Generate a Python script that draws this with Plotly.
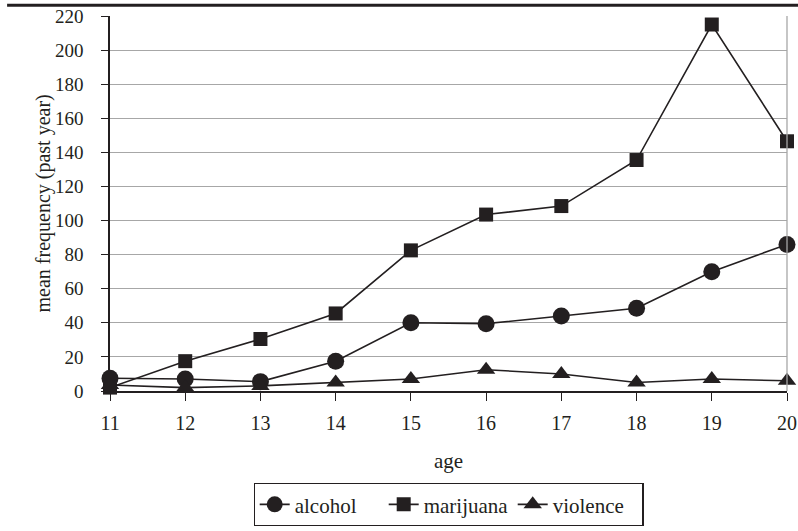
import plotly.graph_objects as go

ages = [11, 12, 13, 14, 15, 16, 17, 18, 19, 20]
alcohol = [7.5, 7, 5.5, 17.5, 40, 39.5, 44, 48.5, 70, 86]
marijuana = [2, 17.5, 30.5, 45.5, 82.5, 103.5, 108.5, 135.5, 215, 146.5]
violence = [3.5, 2, 3, 5, 7, 12.5, 10, 5, 7, 6]
y_ticks = list(range(0, 221, 20))

ink = "#231f20"
FAM = "Liberation Serif"

def f(size):
    return dict(family=FAM, size=size, color=ink)

fig = go.Figure()
series = [
    ("alcohol", alcohol, "circle", 17),
    ("marijuana", marijuana, "square", 14),
    ("violence", violence, "triangle-up", 16),
]
for name, vals, sym, sz in series:
    fig.add_trace(go.Scatter(
        x=ages, y=vals, name=name, mode="lines+markers",
        line=dict(color=ink, width=1.6),
        marker=dict(symbol=sym, size=sz, color=ink),
        cliponaxis=False,
    ))

fig.update_layout(
    width=798, height=531,
    margin=dict(l=110, r=11, t=16, b=140),
    paper_bgcolor="white", plot_bgcolor="white",
    font=f(20),
    showlegend=True,
    legend=dict(
        orientation="h", x=0.5, xanchor="center",
        yref="container", y=1 - 483 / 531, yanchor="top",
        xref="paper",
        bordercolor=ink, borderwidth=1.2, font=f(21),
        itemwidth=30, tracegroupgap=0,
        entrywidth=84, entrywidthmode="pixels",
    ),
    xaxis=dict(
        range=[11, 20], tickmode="array", tickvals=ages,
        ticktext=[str(a) for a in ages],
        showline=True, linecolor=ink, linewidth=1.6,
        ticks="outside", ticklen=8, tickcolor=ink, tickwidth=1.3,
        showgrid=False, zeroline=False, automargin=False,
        title=dict(text="age", standoff=21, font=f(21)),
        tickfont=f(20),
        ticklabelstandoff=5,
    ),
    yaxis=dict(
        range=[0, 220], tickmode="array", tickvals=y_ticks,
        showline=True, linecolor=ink, linewidth=1.6,
        ticks="outside", ticklen=7, tickcolor=ink, tickwidth=1.3,
        showgrid=True, gridcolor="#a7a7a7", gridwidth=1.3,
        zeroline=False, automargin=False,
        tickfont=f(19),
        ticklabelstandoff=14,
    ),
    annotations=[
        dict(text="mean frequency (past year)", xref="paper", yref="paper",
             x=(43 - 110) / 677, y=0.5, xanchor="center", yanchor="middle",
             textangle=-90, showarrow=False, font=f(20)),
    ],
    shapes=[
        dict(type="line", xref="paper", yref="paper", x0=1, x1=1, y0=0, y1=1,
             line=dict(color="#a7a7a7", width=1.3)),
        dict(type="line", xref="paper", yref="paper", x0=-0.152, x1=1.02,
             y0=1.029, y1=1.029, line=dict(color=ink, width=3)),
    ],
)

fig.write_html("out.html", config={"displayModeBar": False},
               post_script="document.body.style.margin='0';")
